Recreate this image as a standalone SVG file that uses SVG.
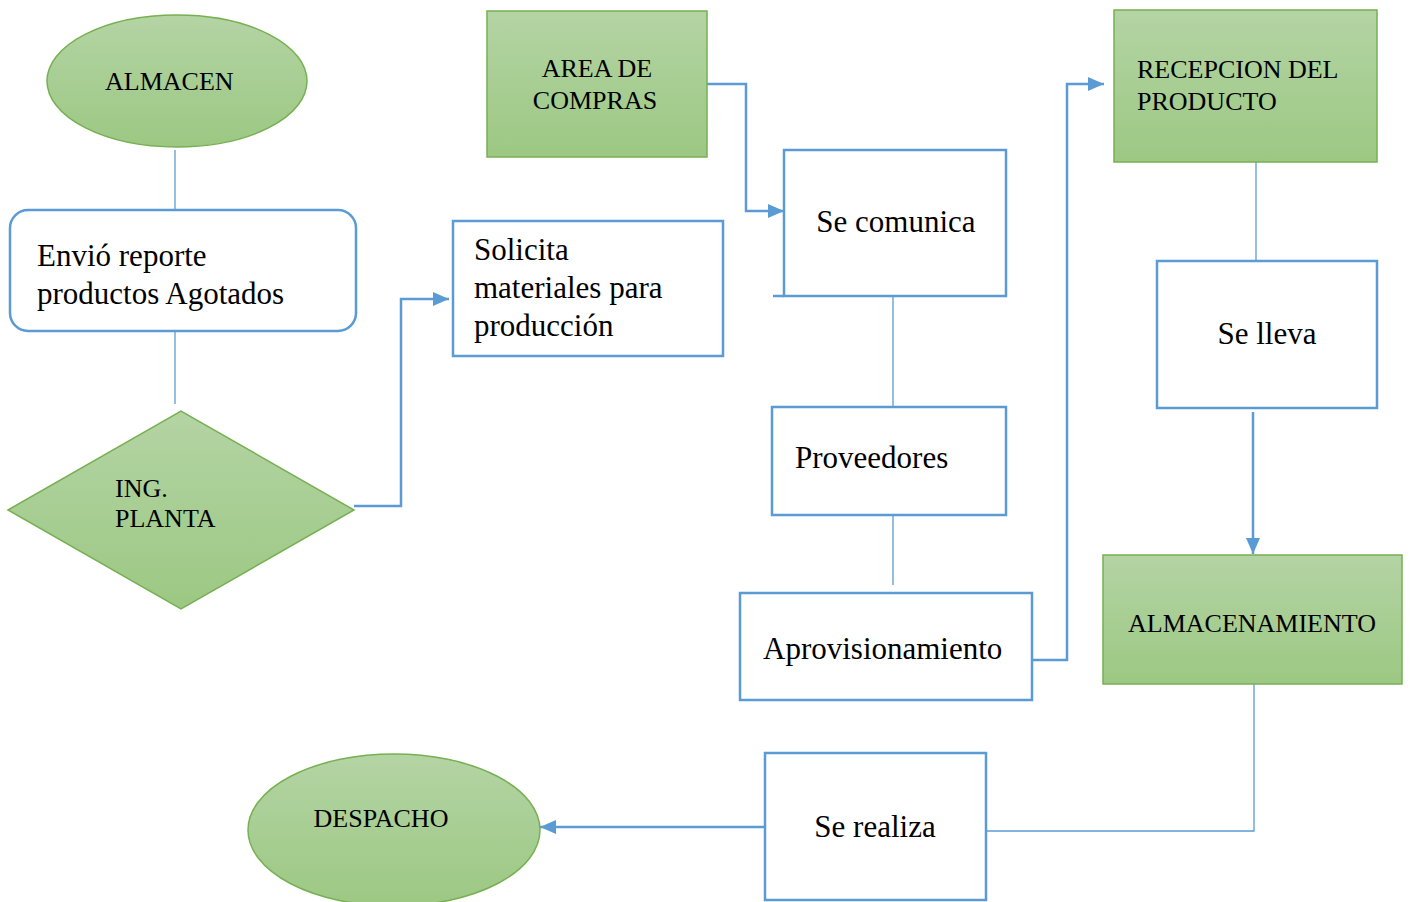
<svg xmlns="http://www.w3.org/2000/svg" width="1410" height="902" viewBox="0 0 1410 902">
<style>
.g{fill:url(#gr);stroke:#77b052;stroke-width:1.5}
.b{fill:#fff;stroke:#5b9bd5;stroke-width:2.5}
.t{font-family:"Liberation Serif","Times New Roman",serif;fill:#000}
.s{font-size:26px}
.l{font-size:31px}
.c{fill:none;stroke:#5b9bd5;stroke-width:2.5}
.th{fill:none;stroke:#5b9bd5;stroke-width:1.3}
</style>
<defs>
<linearGradient id="gr" x1="0" y1="0" x2="0" y2="1">
<stop offset="0" stop-color="#b4d4a4"/>
<stop offset="1" stop-color="#9cc883"/>
</linearGradient>
<marker id="ar" markerUnits="userSpaceOnUse" markerWidth="18" markerHeight="16" refX="16" refY="8" orient="auto">
<path d="M0,1 L16,8 L0,15 Z" fill="#5b9bd5"/>
</marker>
</defs>
<g id="connectors">
<line class="th" x1="175" y1="150" x2="175" y2="210"/>
<line class="th" x1="175" y1="331" x2="175" y2="404"/>
<polyline class="c" points="354,506 401,506 401,299 449,299" marker-end="url(#ar)"/>
<polyline class="c" points="707,84 746,84 746,211 784,211" marker-end="url(#ar)"/>
<line class="th" x1="893" y1="296" x2="893" y2="407"/>
<line class="th" x1="893" y1="515" x2="893" y2="585"/>
<polyline class="c" points="1032,660 1067,660 1067,84 1104,84" marker-end="url(#ar)"/>
<line class="th" x1="1256" y1="162" x2="1256" y2="261"/>
<line class="c" x1="1253" y1="412" x2="1253" y2="554" marker-end="url(#ar)"/>
<polyline class="th" points="1254,684 1254,831 987,831"/>
<line class="c" x1="765" y1="827" x2="540" y2="827" marker-end="url(#ar)"/>
</g>
<g id="almacen">
<ellipse class="g" cx="177" cy="81" rx="130" ry="66"/>
<text class="t s" x="105" y="90">ALMACEN</text>
</g>
<g id="envio">
<rect class="b" x="10" y="210" width="346" height="121" rx="18"/>
<text class="t l" x="37" y="266">Envió reporte</text>
<text class="t l" x="37" y="304">productos Agotados</text>
</g>
<g id="ing-planta">
<polygon class="g" points="8,510 181,411 354,510 181,609"/>
<text class="t s" x="115" y="497">ING.</text>
<text class="t s" x="115" y="527">PLANTA</text>
</g>
<g id="solicita">
<rect class="b" x="453" y="221" width="270" height="135"/>
<text class="t l" x="474" y="260">Solicita</text>
<text class="t l" x="474" y="298">materiales para</text>
<text class="t l" x="474" y="336">producción</text>
</g>
<g id="area-compras">
<rect class="g" x="487" y="11" width="220" height="146"/>
<text class="t s" x="597" y="77" text-anchor="middle">AREA DE</text>
<text class="t s" x="595" y="109" text-anchor="middle">COMPRAS</text>
</g>
<g id="se-comunica">
<rect class="b" x="784" y="150" width="222" height="146"/>
<line class="b" x1="773" y1="296" x2="784" y2="296"/>
<text class="t l" x="896" y="232" text-anchor="middle">Se comunica</text>
</g>
<g id="proveedores">
<rect class="b" x="772" y="407" width="234" height="108"/>
<text class="t l" x="795" y="468">Proveedores</text>
</g>
<g id="aprovisionamiento">
<rect class="b" x="740" y="593" width="292" height="107"/>
<text class="t l" x="763" y="659">Aprovisionamiento</text>
</g>
<g id="recepcion">
<rect class="g" x="1114" y="10" width="263" height="152"/>
<text class="t s" x="1137" y="78">RECEPCION DEL</text>
<text class="t s" x="1137" y="110">PRODUCTO</text>
</g>
<g id="se-lleva">
<rect class="b" x="1157" y="261" width="220" height="147"/>
<text class="t l" x="1267" y="344" text-anchor="middle">Se lleva</text>
</g>
<g id="almacenamiento">
<rect class="g" x="1103" y="555" width="299" height="129"/>
<text class="t s" x="1252" y="632" text-anchor="middle">ALMACENAMIENTO</text>
</g>
<g id="se-realiza">
<rect class="b" x="765" y="753" width="221" height="147"/>
<text class="t l" x="875" y="837" text-anchor="middle">Se realiza</text>
</g>
<g id="despacho">
<ellipse class="g" cx="394" cy="830" rx="146" ry="76"/>
<text class="t s" x="381" y="827" text-anchor="middle">DESPACHO</text>
</g>
</svg>
